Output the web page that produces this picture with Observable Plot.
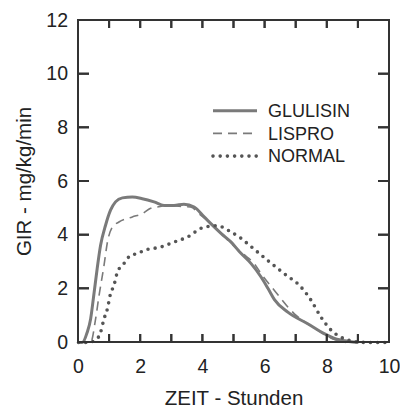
<!DOCTYPE html>
<html><head><meta charset="utf-8">
<script src="https://cdn.jsdelivr.net/npm/d3@7"></script>
<script src="https://cdn.jsdelivr.net/npm/@observablehq/plot@0.6"></script>
<style>
body{margin:0;background:#fff;}
#chart{position:relative;width:400px;height:408px;}
#chart svg{font-family:'Liberation Sans', Arial, Helvetica, sans-serif;}
</style>
</head><body><div id="chart"></div>
<script>
// ---- data ----
const seriesNames = ["GLULISIN", "LISPRO", "NORMAL"];

const glulisinX = [0, 0.12, 0.28, 0.39, 0.49, 0.6, 0.71, 0.87, 1.03, 1.19, 1.41, 1.73, 2.05, 2.43, 2.75, 3.07, 3.39, 3.72, 4.04, 4.37, 4.6, 4.9, 5.2, 5.55, 5.87, 6.1, 6.3, 6.73, 7.37, 7.9, 8.23, 8.7, 9.0];
const glulisinY = [0, 0, 0.38, 0.88, 1.75, 2.75, 3.62, 4.37, 4.93, 5.24, 5.39, 5.42, 5.36, 5.24, 5.11, 5.11, 5.15, 5.05, 4.68, 4.3, 4.05, 3.75, 3.35, 2.94, 2.44, 2.0, 1.6, 1.13, 0.7, 0.33, 0.15, 0.04, 0];

const lisproX = [0, 0.39, 0.55, 0.66, 0.82, 0.93, 1.09, 1.3, 1.73, 2.05, 2.32, 2.54, 2.86, 3.3, 3.6, 3.94, 4.26, 4.6, 5.0, 5.3, 5.65, 5.87, 6.3, 6.94, 7.3, 7.7, 8.23, 8.6];
const lisproY = [0, 0, 0.88, 1.75, 2.87, 3.74, 4.3, 4.49, 4.68, 4.8, 5.0, 5.05, 5.11, 5.07, 5.05, 4.74, 4.43, 4.05, 3.6, 3.3, 2.94, 2.57, 1.94, 1.07, 0.75, 0.45, 0.11, 0];

const normalX = [0, 0.3, 0.57, 0.71, 0.82, 0.93, 1.03, 1.14, 1.25, 1.46, 1.68, 1.89, 2.1, 2.65, 3.07, 3.5, 4.04, 4.45, 4.9, 5.23, 5.44, 6.08, 6.62, 7.16, 7.48, 7.8, 8.13, 8.45, 8.87, 9.3, 10];
const normalY = [0, 0, 0.11, 0.38, 0.88, 1.26, 1.82, 2.13, 2.62, 2.94, 3.25, 3.31, 3.43, 3.56, 3.74, 3.93, 4.3, 4.35, 4.12, 3.88, 3.68, 3.06, 2.56, 2.06, 1.57, 0.94, 0.45, 0.19, 0.04, 0, 0];

const xTickMarks = [1, 2, 3, 4, 5, 6, 7, 8, 9];
const xTickLabels = [0, 2, 4, 6, 8, 10];
const yTickMarks = [2, 4, 6, 8, 10];
const yTickLabels = [0, 2, 4, 6, 8, 10, 12];
const xLabel = "ZEIT - Stunden";
const yLabel = "GIR - mg/kg/min";

// ---- build table ----
const seriesX = [glulisinX, lisproX, normalX];
const seriesY = [glulisinY, lisproY, normalY];
const rows = [];
seriesNames.forEach((name, i) => {
  seriesX[i].forEach((x, j) => rows.push({series: name, x, y: seriesY[i][j]}));
});

const styles = {
  GLULISIN: {stroke: "#7a7a7a", strokeWidth: 3, strokeDasharray: null, strokeLinecap: "butt"},
  LISPRO: {stroke: "#7a7a7a", strokeWidth: 1.6, strokeDasharray: "9,6", strokeLinecap: "butt"},
  NORMAL: {stroke: "#555", strokeWidth: 3.6, strokeDasharray: "0,7.2", strokeLinecap: "round"}
};

const font = "Liberation Sans";

const W = 400, H = 408, mL = 78, mR = 11, mT = 20, mB = 66;
const xTickLen = 8, yTickLen = 11, tickW = 2;

const plot = Plot.plot({
  width: W,
  height: H,
  marginLeft: mL,
  marginRight: mR,
  marginTop: mT,
  marginBottom: mB,
  x: {domain: [0, 10]},
  y: {domain: [0, 12]},
  marks: [
    ...seriesNames.map(name => Plot.line(rows.filter(d => d.series === name), {
      x: "x", y: "y", curve: "monotone-x",
      stroke: styles[name].stroke,
      strokeWidth: styles[name].strokeWidth,
      strokeDasharray: styles[name].strokeDasharray,
      strokeLinecap: styles[name].strokeLinecap,
      strokeLinejoin: "round"
    })),
    // tick labels
    Plot.axisX({ticks: xTickLabels, anchor: "bottom", tickSize: 0, tickPadding: 16.5, fontSize: 19.5, fontFamily: font, label: null, fill: "#222"}),
    Plot.axisY({ticks: yTickLabels, anchor: "left", tickSize: 0, tickPadding: 10.5, fontSize: 19.5, fontFamily: font, label: null, fill: "#222"}),
    // axis titles
    Plot.text([xLabel], {text: d => d, frameAnchor: "bottom", dy: 56.3, lineAnchor: "middle", fontSize: 20.5, fontFamily: font, fill: "#222"}),
    Plot.text([yLabel], {text: d => d, frameAnchor: "left", dx: -54.4, rotate: -90, lineAnchor: "middle", textAnchor: "middle", fontSize: 20.5, fontFamily: font, fill: "#222"})
  ]
});

document.getElementById("chart").appendChild(plot);

// ---- frame + inward ticks on all four sides, as one path, placed through Plot's scales ----
const sx = plot.scale("x"), sy = plot.scale("y");
const yBottom = sy.apply(0), yTop = sy.apply(12);
const xLeft = sx.apply(0), xRight = sx.apply(10);
const svg = d3.select(plot);

const p = d3.path();
p.rect(xLeft, yTop, xRight - xLeft, yBottom - yTop);
xTickMarks.forEach(v => {
  const px = sx.apply(v);
  p.moveTo(px, yBottom); p.lineTo(px, yBottom - xTickLen);
  p.moveTo(px, yTop); p.lineTo(px, yTop + xTickLen);
});
yTickMarks.forEach(v => {
  const py = sy.apply(v);
  p.moveTo(xLeft, py); p.lineTo(xLeft + yTickLen, py);
  p.moveTo(xRight, py); p.lineTo(xRight - yTickLen, py);
});
svg.append("path").attr("d", p.toString())
  .attr("fill", "none").attr("stroke", "#333").attr("stroke-width", tickW);

// same ticks as small filled rectangles (robust rendering)
const tickRects = svg.append("g").attr("fill", "#333");
xTickMarks.forEach(v => {
  const px = sx.apply(v);
  tickRects.append("rect").attr("x", px - tickW / 2).attr("y", yBottom - xTickLen).attr("width", tickW).attr("height", xTickLen);
  tickRects.append("rect").attr("x", px - tickW / 2).attr("y", yTop).attr("width", tickW).attr("height", xTickLen);
});
yTickMarks.forEach(v => {
  const py = sy.apply(v);
  tickRects.append("rect").attr("x", xLeft).attr("y", py - tickW / 2).attr("width", yTickLen).attr("height", tickW);
  tickRects.append("rect").attr("x", xRight - yTickLen).attr("y", py - tickW / 2).attr("width", yTickLen).attr("height", tickW);
});

// ---- legend ----
const leg = svg.append("g").attr("class", "legend").attr("text-anchor", "start");
seriesNames.forEach((name, i) => {
  const yy = 110.7 + i * 22.7;
  const s = styles[name];
  leg.append("line")
    .attr("x1", 213).attr("x2", 257).attr("y1", yy).attr("y2", yy)
    .attr("stroke", s.stroke).attr("stroke-width", s.strokeWidth)
    .attr("stroke-dasharray", s.strokeDasharray)
    .attr("stroke-linecap", s.strokeLinecap);
  leg.append("text")
    .attr("x", 268).attr("y", yy).attr("dy", "0.35em")
    .attr("text-anchor", "start")
    .attr("font-size", 18).attr("font-family", font).attr("fill", "#222")
    .text(name);
});
</script>
</body></html>
